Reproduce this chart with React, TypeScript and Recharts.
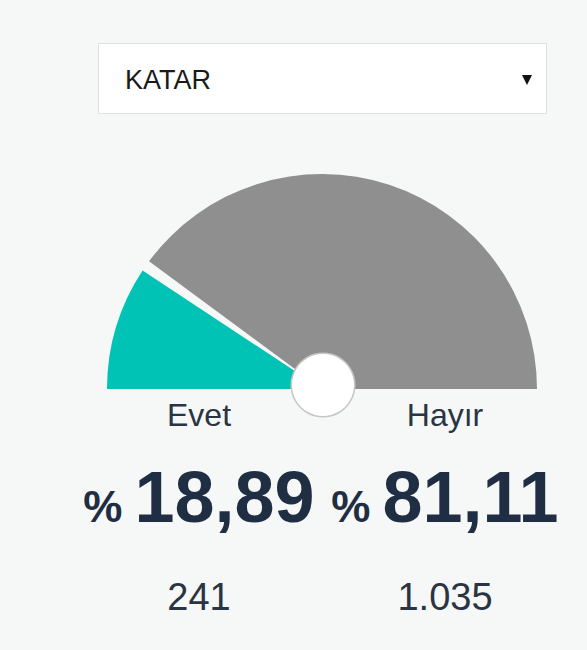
import React from "react";
import { PieChart, Pie, Cell } from "recharts";

// Referandum sonucu (KATAR)
const categories = ["Evet", "Hayır"];
const percents = [18.89, 81.11];
const counts = [241, 1035];
const country = "KATAR";

const COLORS = ["#00c2b5", "#8f8f8f"];
const FONT = '"Liberation Sans", Arial, sans-serif';

const pieData = categories.map((name, i) => ({ name, value: percents[i] }));
const hubData = [{ name: "hub", value: 1 }];

const fmtPct = (v: number) => v.toFixed(2).replace(".", ",");
const fmtCount = (v: number) => v.toString().replace(/\B(?=(\d{3})+(?!\d))/g, ".");

// horizontal centres of the two text columns
const colX = [199, 445];

export default function App() {
  return (
    <div
      style={{
        position: "absolute",
        left: 0,
        top: 0,
        width: 587,
        height: 650,
        background: "#f6f8f8",
        fontFamily: FONT,
        overflow: "hidden",
      }}
    >
      {/* dropdown */}
      <div
        style={{
          position: "absolute",
          left: 98,
          top: 43,
          width: 447,
          height: 69,
          background: "#fff",
          border: "1px solid #dde1e1",
        }}
      />
      <div
        style={{
          position: "absolute",
          left: 125,
          top: 67,
          fontSize: 27,
          lineHeight: 1,
          color: "#1a1a1a",
        }}
      >
        {country}
      </div>
      <div
        style={{
          position: "absolute",
          left: 522,
          top: 75,
          width: 0,
          height: 0,
          borderLeft: "5.5px solid transparent",
          borderRight: "5.5px solid transparent",
          borderTop: "10px solid #111",
        }}
      />

      <div style={{ position: "absolute", left: 0, top: 0 }}>
        <PieChart width={587} height={650} margin={{ top: 0, right: 0, bottom: 0, left: 0 }}>
          <Pie
            data={pieData}
            dataKey="value"
            cx={322}
            cy={389}
            startAngle={180}
            endAngle={0}
            innerRadius={0}
            outerRadius={215}
            paddingAngle={3}
            stroke="none"
            isAnimationActive={false}
          >
            {pieData.map((d, i) => (
              <Cell key={d.name} fill={COLORS[i]} />
            ))}
          </Pie>
          {/* hub: grey ring + white disc */}
          <Pie
            data={hubData}
            dataKey="value"
            cx={323}
            cy={385}
            startAngle={90}
            endAngle={-270}
            innerRadius={0}
            outerRadius={32.5}
            fill="#c6c6c6"
            stroke="none"
            isAnimationActive={false}
          />
          <Pie
            data={hubData}
            dataKey="value"
            cx={323}
            cy={385}
            startAngle={90}
            endAngle={-270}
            innerRadius={0}
            outerRadius={31}
            fill="#ffffff"
            stroke="none"
            isAnimationActive={false}
          />
        </PieChart>
      </div>

      {categories.map((name, i) => (
        <React.Fragment key={name}>
          <div
            style={{
              position: "absolute",
              left: colX[i] - 120,
              width: 240,
              top: 399,
              textAlign: "center",
              fontSize: 32,
              lineHeight: 1,
              color: "#2a3442",
            }}
          >
            {name}
          </div>
          <div
            style={{
              position: "absolute",
              left: colX[i] - 120,
              width: 240,
              top: 461,
              display: "flex",
              justifyContent: "center",
              alignItems: "baseline",
              fontWeight: "bold",
              lineHeight: 1,
              color: "#1f2e42",
            }}
          >
            <span style={{ fontSize: 44 }}>%</span>
            <span style={{ fontSize: 72, marginLeft: 12 }}>{fmtPct(percents[i])}</span>
          </div>
          <div
            style={{
              position: "absolute",
              left: colX[i] - 120,
              width: 240,
              top: 578,
              textAlign: "center",
              fontSize: 38,
              lineHeight: 1,
              color: "#2a3442",
            }}
          >
            {fmtCount(counts[i])}
          </div>
        </React.Fragment>
      ))}
    </div>
  );
}
